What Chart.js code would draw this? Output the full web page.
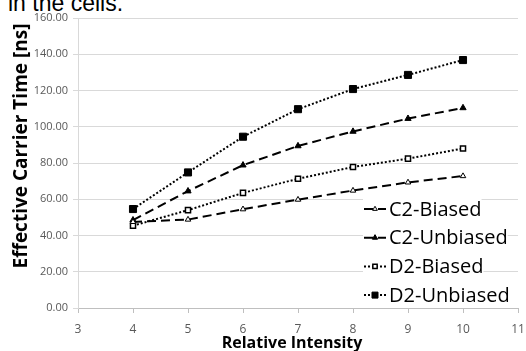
<!DOCTYPE html>
<html>
<head>
<meta charset="utf-8">
<script src="https://cdn.jsdelivr.net/npm/chart.js@4"></script>
<style>
    html, body { margin: 0; padding: 0; background: #fff; }
    #wrap { position: relative; width: 526px; height: 351px; overflow: hidden; }
    #caption {
        position: absolute; left: 8px; top: -10px;
        font: 23px "Liberation Sans", Arial, sans-serif; color: #000; white-space: nowrap;
    }
    canvas { position: absolute; left: 0; top: 0; }
</style>
</head>
<body>
<div id="wrap">
    <div id="caption">in the cells.</div>
    <canvas id="chart" width="526" height="351"></canvas>
</div>
<script>
// intensity values on the x axis
const intensity = [4, 5, 6, 7, 8, 9, 10];

// effective carrier time [ns]
const c2Biased   = [47.5, 48.8, 54.5, 59.8, 64.8, 69.3, 72.8];
const c2Unbiased = [48.5, 64.5, 78.8, 89.4, 97.4, 104.5, 110.4];
const d2Biased   = [45.4, 54.0, 63.5, 71.3, 77.8, 82.4, 88.0];
const d2Unbiased = [54.6, 74.8, 94.5, 109.7, 120.8, 128.6, 136.8];

const seriesNames = ['C2-Biased', 'C2-Unbiased', 'D2-Biased', 'D2-Unbiased'];
const xTitle = 'Relative Intensity';
const yTitle = 'Effective Carrier Time [ns]';

const xMin = 3, xMax = 11;
const yMin = 0, yMax = 160, yStep = 20;

const toPoints = values => values.map((v, i) => ({ x: intensity[i], y: v }));

const dashed = [9, 5];
const dotted = [2, 2];

const datasets = [
    {
        label: seriesNames[0], data: toPoints(c2Biased),
        borderDash: dashed, borderWidth: 2,
        pointStyle: 'triangle', pointRadius: 3.2, pointBorderWidth: 1,
        pointBackgroundColor: '#fff'
    },
    {
        label: seriesNames[1], data: toPoints(c2Unbiased),
        borderDash: dashed, borderWidth: 2,
        pointStyle: 'triangle', pointRadius: 3.6, pointBorderWidth: 1,
        pointBackgroundColor: '#000'
    },
    {
        label: seriesNames[2], data: toPoints(d2Biased),
        borderDash: dotted, borderWidth: 2,
        pointStyle: 'rect', pointRadius: 3.6, pointBorderWidth: 1.5,
        pointBackgroundColor: '#fff'
    },
    {
        label: seriesNames[3], data: toPoints(d2Unbiased),
        borderDash: dotted, borderWidth: 2,
        pointStyle: 'rect', pointRadius: 5, pointBorderWidth: 1,
        pointBackgroundColor: '#000'
    }
].map(ds => Object.assign({ borderColor: '#000', pointBorderColor: '#000', fill: false, tension: 0 }, ds));

// axis titles placed by hand: the y title sits above the axis centre in the original
const axisTitles = {
    id: 'axisTitles',
    afterDraw(chart) {
        const ctx = chart.ctx;
        ctx.save();
        ctx.fillStyle = '#000';
        ctx.textAlign = 'center';
        ctx.textBaseline = 'middle';
        ctx.font = 'bold 16px "Open Sans", sans-serif';
        ctx.fillText(xTitle, 292, 343);
        ctx.translate(22, 146);
        ctx.rotate(-Math.PI / 2);
        ctx.font = 'bold 19px "Open Sans", sans-serif';
        ctx.fillText(yTitle, 0, 0);
        ctx.restore();
    }
};

// legend drawn inside the plot, bottom right, like the spreadsheet original
const insideLegend = {
    id: 'insideLegend',
    afterDatasetsDraw(chart) {
        const ctx = chart.ctx;
        const left = 364, rowTop = 209, rowGap = 28.7;
        ctx.save();
        ctx.font = '20px "Open Sans", sans-serif';
        ctx.textBaseline = 'middle';
        chart.data.datasets.forEach((ds, i) => {
            const y = rowTop + i * rowGap;
            const w = ctx.measureText(ds.label).width;
            ctx.fillStyle = '#fff';
            ctx.fillRect(left - 1, y - 11, 26 + w, 22);

            ctx.strokeStyle = ds.borderColor;
            ctx.lineWidth = ds.borderWidth;
            ctx.setLineDash(ds.borderDash);
            ctx.beginPath();
            ctx.moveTo(left, y);
            ctx.lineTo(left + 22, y);
            ctx.stroke();
            ctx.setLineDash([]);

            ctx.fillStyle = ds.pointBackgroundColor;
            ctx.strokeStyle = '#000';
            ctx.lineWidth = ds.pointBorderWidth;
            Chart.helpers.drawPoint(ctx, {
                pointStyle: ds.pointStyle,
                radius: ds.pointRadius * 0.85,
                borderWidth: ds.pointBorderWidth
            }, left + 11, y);

            ctx.fillStyle = '#000';
            ctx.fillText(ds.label, left + 25, y + 1);
        });
        ctx.restore();
    }
};

new Chart(document.getElementById('chart'), {
    type: 'line',
    data: { datasets },
    plugins: [insideLegend, axisTitles],
    options: {
        responsive: false,
        animation: false,
        events: [],
        layout: { padding: { top: 18, right: 8, left: 0, bottom: 0 } },
        plugins: {
            legend: { display: false },
            tooltip: { enabled: false }
        },
        scales: {
            x: {
                type: 'linear',
                min: xMin, max: xMax,
                ticks: {
                    stepSize: 1,
                    color: '#595959',
                    font: { family: '"Open Sans", sans-serif', size: 12 },
                    padding: 9
                },
                grid: { display: true, drawOnChartArea: false, color: '#bfbfbf', tickLength: 5 },
                border: { color: '#bfbfbf' },
                afterFit(scale) {
                    scale.height = 43;
                    // the tick padding would otherwise pull the right edge in
                    scale.paddingLeft = 0;
                    scale.paddingRight = 0;
                }
            },
            y: {
                min: yMin, max: yMax,
                ticks: {
                    stepSize: yStep,
                    color: '#595959',
                    font: { family: '"Open Sans", sans-serif', size: 11 },
                    padding: 5,
                    callback: v => v.toFixed(2)
                },
                grid: { color: '#d9d9d9', tickLength: 5 },
                border: { color: '#d9d9d9' },
                afterFit(scale) { scale.width = 78; }
            }
        }
    }
});
</script>
</body>
</html>
